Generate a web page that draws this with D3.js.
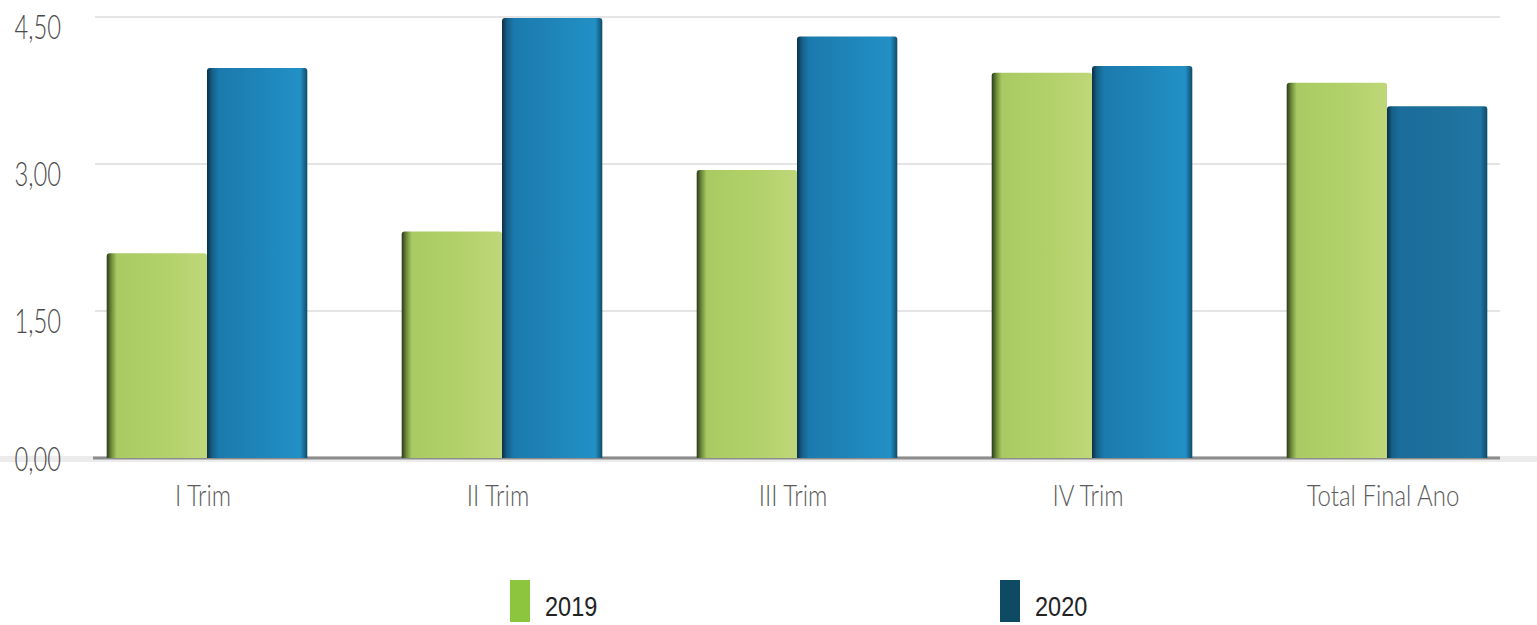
<!DOCTYPE html>
<html><head><meta charset="utf-8">
<script src="https://cdn.jsdelivr.net/npm/d3@7"></script>
<style>body{margin:0;background:#fff}svg{display:block}</style>
</head><body><svg id="c" width="1537" height="625"></svg>
<script>
const categories = ["I Trim","II Trim","III Trim","IV Trim","Total Final Ano"];
const series = ["2019","2020"];
const values2019 = [2.09, 2.31, 2.94, 3.93, 3.83];
const values2020 = [3.98, 4.49, 4.30, 4.00, 3.59];
const yTicks = [0, 1.5, 3, 4.5];
const legendColors = ["#8cc63e", "#0e4a63"];

const svg = d3.select("#c");
const x = d3.scaleBand().domain(categories).range([59.5, 1534.5]).paddingInner(0.32).paddingOuter(0.16);
const x1 = d3.scaleBand().domain(series).range([0, x.bandwidth()]);
const y = d3.scaleLinear().domain([0, 4.5]).range([458, 17]);

const defs = svg.append("defs");
function grad(id, stops){
  const g = defs.append("linearGradient").attr("id", id).attr("x1","0").attr("x2","1").attr("y1","0").attr("y2","0");
  stops.forEach(s => g.append("stop").attr("offset", s[0]).attr("stop-color", s[1]));
}
grad("g19", [[0,"#2c3a18"],[0.05,"#6f8f3c"],[0.1,"#a9ca62"],[0.6,"#b2d16a"],[1,"#bfd77a"]]);
grad("g20", [[0,"#0b2f45"],[0.05,"#155f88"],[0.12,"#1b7aad"],[0.6,"#1f87bb"],[0.93,"#2290c5"],[1,"#0f4a6a"]]);
grad("g20b", [[0,"#0b2f45"],[0.05,"#155f88"],[0.12,"#1a6d9a"],[0.6,"#1e719d"],[0.93,"#2076a3"],[1,"#0f4a6a"]]);

// light band behind baseline
svg.append("line").attr("x1", 0).attr("x2", 1537).attr("y1", y(0)+1).attr("y2", y(0)+1)
  .attr("stroke", "#ececec").attr("stroke-width", 6);

// gridlines
svg.append("g").selectAll("line").data(yTicks.filter(d => d > 0)).join("line")
  .attr("x1", 95).attr("x2", 1500).attr("y1", d => y(d)).attr("y2", d => y(d))
  .attr("stroke", "#e4e4e4").attr("stroke-width", 2);

// y labels
const fmt = d => d3.format(".2f")(d).replace(".", ",");
svg.append("g").selectAll("text").data(yTicks).join("text")
  .attr("transform", d => `translate(61,${y(d) + (d === 0 ? 13 : 22)}) scale(0.72,1)`)
  .attr("text-anchor", "end")
  .attr("font-family", "Lato, 'Open Sans', sans-serif").attr("font-weight", 300)
  .attr("font-size", 33).attr("fill", "#4a4a4a")
  .text(fmt);

// baseline
svg.append("line").attr("x1", 93).attr("x2", 1500).attr("y1", y(0)).attr("y2", y(0))
  .attr("stroke", "#8c8c8c").attr("stroke-width", 3);

// bars
const rows = categories.map((c, i) => ({c, v: [values2019[i], values2020[i]]}));
const gBars = svg.append("g");
rows.forEach((r, i) => {
  series.forEach((s, j) => {
    const fill = j === 0 ? "url(#g19)" : (i === 4 ? "url(#g20b)" : "url(#g20)");
    gBars.append("path")
      .attr("d", () => {
        const x0 = x(r.c) + x1(s), w = x1.bandwidth(), t = y(r.v[j]), b = y(0), rr = 3;
        return `M${x0},${b}V${t+rr}Q${x0},${t} ${x0+rr},${t}H${x0+w-rr}Q${x0+w},${t} ${x0+w},${t+rr}V${b}Z`;
      })
      .attr("fill", fill);
  });
});

// x labels
svg.append("g").selectAll("text").data(categories).join("text")
  .attr("transform", d => `translate(${x(d) + x.bandwidth()/2 - 4},506) scale(0.8,1)`)
  .attr("text-anchor", "middle")
  .attr("font-family", "Lato, 'Open Sans', sans-serif").attr("font-weight", 300)
  .attr("font-size", 30).attr("fill", "#5a5a5a").text(d => d);

// legend
const lx = [510, 1000];
const lg = svg.append("g");
series.forEach((s, i) => {
  lg.append("rect").attr("x", lx[i]).attr("y", 580).attr("width", 20).attr("height", 42).attr("fill", legendColors[i]);
  lg.append("text").attr("transform", `translate(${lx[i] + 35},616) scale(0.84,1)`)
    .attr("font-family", "'Liberation Sans', Arial, sans-serif")
    .attr("font-size", 28).attr("fill", "#222").text(s);
});
</script></body></html>
